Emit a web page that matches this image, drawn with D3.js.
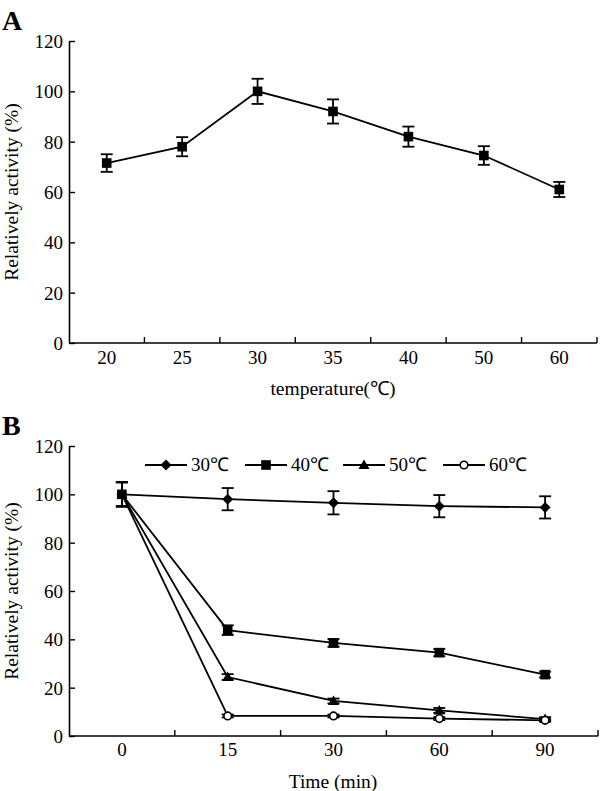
<!DOCTYPE html>
<html><head><meta charset="utf-8">
<script src="https://cdn.jsdelivr.net/npm/d3@7"></script>
<style>body{margin:0;background:#fff}svg{display:block}svg text{font-family:'Liberation Serif','Times New Roman',serif;fill:#000}</style>
</head><body>
<script>
// Panel A data
const tempCats = ["20","25","30","35","40","50","60"];
const tempVals = [71.5,78,100,92,82,74.5,61];
const tempErr  = [3.5,3.8,5,4.8,4,3.7,3];
// Panel B data
const timeCats = ["0","15","30","60","90"];
const seriesNames = ["30\u2103","40\u2103","50\u2103","60\u2103"];
const s30 = [100,98,96.5,95.1,94.6];
const s30err = [5,4.6,4.8,4.6,4.6];
const s40 = [100,43.8,38.5,34.5,25.4];
const s40err = [5,2,1.6,1.5,1.2];
const s50 = [100,24.4,14.5,10.6,7];
const s50err = [5,1.2,1,1,0.8];
const s60 = [100,8.3,8.3,7.2,6.5];
const s60err = [5,0.6,0.6,0.6,0.5];
const yTicks = [0,20,40,60,80,100,120];

const W=600,H=791;
const FONT="'Liberation Serif','Times New Roman',serif";
const svg=d3.select("body").append("svg").attr("width",W).attr("height",H);

function txt(sel,size){return sel.style("font-family",FONT).style("font-size",size+"px");}

function drawMarker(g,type,cx,cy){
  if(type==="square") g.append("rect").attr("x",cx-4.8).attr("y",cy-4.8).attr("width",9.6).attr("height",9.6).attr("fill","#000");
  else if(type==="diamond") g.append("path").attr("d",`M${cx},${cy-5.5}L${cx+5.5},${cy}L${cx},${cy+5.5}L${cx-5.5},${cy}Z`).attr("fill","#000");
  else if(type==="triangle") g.append("path").attr("d",`M${cx},${cy-5.5}L${cx+5.5},${cy+4}L${cx-5.5},${cy+4}Z`).attr("fill","#000");
  else if(type==="circle") g.append("circle").attr("cx",cx).attr("cy",cy).attr("r",3.8).attr("fill","#fff").attr("stroke","#000").attr("stroke-width",1.6);
}

function panel(cfg){
  const x=d3.scaleBand().domain(cfg.cats).range([cfg.left,cfg.right]).paddingInner(0).paddingOuter(0);
  const y=d3.scaleLinear().domain([0,120]).range([cfg.bottom,cfg.top]);
  const g=svg.append("g");
  const ya=g.append("g").attr("transform",`translate(${cfg.left},0)`)
    .call(d3.axisLeft(y).tickValues(yTicks).tickSizeInner(-6).tickSizeOuter(0).tickPadding(6));
  ya.attr("font-family",null).attr("font-size",null);
  ya.select(".domain").attr("stroke","#000").attr("stroke-width",1.6);
  ya.selectAll(".tick line").attr("stroke","#000").attr("stroke-width",1.4);
  txt(ya.selectAll(".tick text"),19).attr("dy","0.34em");
  const xa=g.append("g").attr("transform",`translate(0,${cfg.bottom})`)
    .call(d3.axisBottom(x).tickSize(0).tickPadding(cfg.xpad));
  xa.attr("font-family",null).attr("font-size",null);
  xa.select(".domain").remove();
  txt(xa.selectAll(".tick text"),19);
  g.append("line").attr("x1",cfg.left).attr("x2",cfg.right).attr("y1",cfg.bottom).attr("y2",cfg.bottom).attr("stroke","#000").attr("stroke-width",1.6);
  const bounds=cfg.cats.map(c=>x(c)+x.bandwidth());
  g.selectAll(".bt").data(bounds).enter().append("line")
    .attr("x1",d=>d).attr("x2",d=>d).attr("y1",cfg.bottom).attr("y2",cfg.bottom-6).attr("stroke","#000").attr("stroke-width",1.4);
  txt(g.append("text").attr("x",2).attr("y",cfg.letterY).text(cfg.letter),28).style("font-weight","bold");
  txt(g.append("text").attr("transform",`translate(${cfg.ytitleX},${(cfg.top+cfg.bottom)/2}) rotate(-90)`)
    .attr("text-anchor","middle").text("Relatively activity (%)"),19.5);
  txt(g.append("text").attr("x",cfg.xtitleX).attr("y",cfg.xtitleY).attr("text-anchor","middle").text(cfg.xtitle),19.5);
  cfg.series.forEach(s=>{
    const pts=s.vals.map((v,i)=>[x(cfg.cats[i])+x.bandwidth()/2,y(v)]);
    g.append("path").attr("d",d3.line()(pts)).attr("fill","none").attr("stroke","#000").attr("stroke-width",1.8);
  });
  cfg.series.forEach(s=>{
    s.vals.forEach((v,i)=>{
      const cx=x(cfg.cats[i])+x.bandwidth()/2;
      const e=s.err[i];
      const yt=y(v+e),yb=y(v-e);
      g.append("line").attr("x1",cx).attr("x2",cx).attr("y1",yt).attr("y2",yb).attr("stroke","#000").attr("stroke-width",1.8);
      [yt,yb].forEach(yy=>g.append("line").attr("x1",cx-6).attr("x2",cx+6).attr("y1",yy).attr("y2",yy).attr("stroke","#000").attr("stroke-width",1.8));
    });
  });
  cfg.series.forEach(s=>{
    s.vals.forEach((v,i)=>drawMarker(g,s.marker,x(cfg.cats[i])+x.bandwidth()/2,y(v)));
  });
  return {x,y,g};
}

panel({cats:tempCats,left:69,right:597,top:41,bottom:343,xpad:8,letter:"A",letterY:30,ytitleX:18,
  xtitle:"temperature(\u2103)",xtitleX:333,xtitleY:395,
  series:[{vals:tempVals,err:tempErr,marker:"square"}]});

const markers=["diamond","square","triangle","circle"];
panel({cats:timeCats,left:69,right:598,top:446,bottom:736,xpad:7,letter:"B",letterY:435,ytitleX:18,
  xtitle:"Time (min)",xtitleX:333,xtitleY:788,
  series:[
    {vals:s30,err:s30err,marker:"diamond"},
    {vals:s50,err:s50err,marker:"triangle"},
    {vals:s60,err:s60err,marker:"circle"},
    {vals:s40,err:s40err,marker:"square"}
  ]});

const legX=[145,245,343,443];
const legY=465;
seriesNames.forEach((n,i)=>{
  const lg=svg.append("g");
  lg.append("line").attr("x1",legX[i]).attr("x2",legX[i]+42).attr("y1",legY).attr("y2",legY).attr("stroke","#000").attr("stroke-width",1.8);
  drawMarker(lg,markers[i],legX[i]+21,legY);
  txt(lg.append("text").attr("x",legX[i]+46).attr("y",legY+6).text(n),19);
});
</script>
</body></html>
